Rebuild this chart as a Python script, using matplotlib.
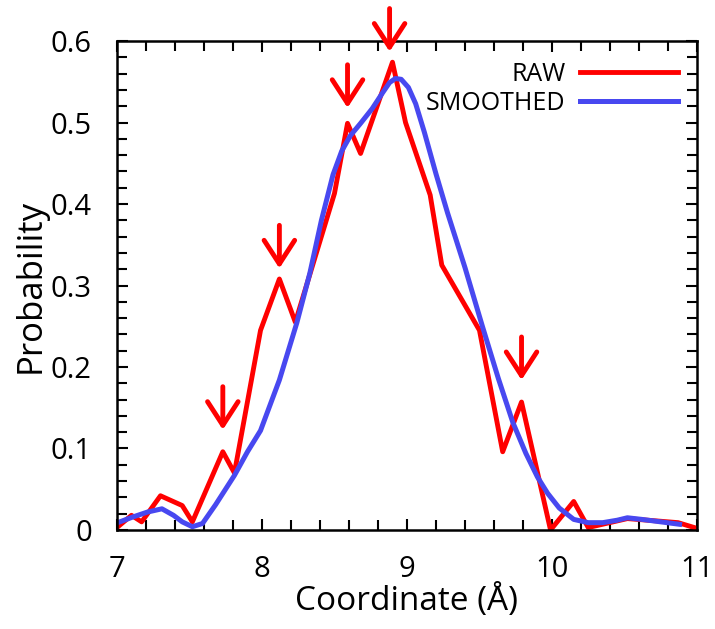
import numpy as np
import matplotlib
matplotlib.use("Agg")
import matplotlib.pyplot as plt
from matplotlib.ticker import MultipleLocator

plt.rcParams['font.family'] = ['Open Sans', 'DejaVu Sans']

# raw histogram (red)
raw_x = [7.00, 7.10, 7.17, 7.30, 7.45, 7.52, 7.73, 7.81, 7.99, 8.12, 8.23, 8.50, 8.59, 8.68,
         8.90, 8.99, 9.16, 9.24, 9.50, 9.66, 9.79, 9.99, 10.15, 10.25, 10.52, 10.87, 11.00]
raw_y = [0.003, 0.018, 0.010, 0.042, 0.030, 0.010, 0.096, 0.070, 0.245, 0.308, 0.255, 0.413, 0.499, 0.462,
         0.574, 0.500, 0.411, 0.325, 0.245, 0.096, 0.157, 0.000, 0.035, 0.003, 0.014, 0.009, 0.002]

# smoothed curve (blue)
smooth_x = [7.02, 7.11, 7.21, 7.31, 7.39, 7.45, 7.52, 7.59, 7.68, 7.81, 7.90, 7.99, 8.12, 8.24, 8.33,
            8.41, 8.49, 8.55, 8.61, 8.68, 8.76, 8.83, 8.88, 8.92, 8.96, 9.01, 9.06, 9.12, 9.20, 9.28, 9.40,
            9.52, 9.63, 9.73, 9.82, 9.90, 9.97, 10.05, 10.15, 10.25, 10.35, 10.45, 10.52, 10.62, 10.75, 10.88]
smooth_y = [0.010, 0.016, 0.022, 0.026, 0.018, 0.010, 0.004, 0.008, 0.031, 0.067, 0.096, 0.122, 0.184, 0.254, 0.315,
            0.380, 0.436, 0.465, 0.484, 0.499, 0.517, 0.536, 0.549, 0.554, 0.553, 0.543, 0.523, 0.488, 0.437, 0.389, 0.322,
            0.250, 0.186, 0.132, 0.094, 0.065, 0.045, 0.027, 0.013, 0.009, 0.009, 0.012, 0.015, 0.013, 0.010, 0.007]

# arrows marking peaks (tip positions)
arrow_x = [7.73, 8.12, 8.59, 8.88, 9.79]
arrow_y = [0.123, 0.321, 0.518, 0.587, 0.184]

fig = plt.figure(figsize=(7.15, 6.29), dpi=100)
ax = fig.add_axes([0.1636, 0.1574, 0.8112, 0.7774])

ax.plot(raw_x, raw_y, color='#FF0000', lw=3.5, label='RAW')
ax.plot(smooth_x, smooth_y, color='#4848F0', lw=3.6, label='SMOOTHED')

for x, y in zip(arrow_x, arrow_y):
    ax.annotate('', xy=(x, y), xytext=(0, 31), textcoords='offset points',
                annotation_clip=False,
                arrowprops=dict(arrowstyle='->,head_length=0.85,head_width=0.55',
                                mutation_scale=20, color='#FF0000', lw=3.5,
                                shrinkA=0, shrinkB=0))

ax.set_xlim(7, 11)
ax.set_ylim(0, 0.6)
ax.xaxis.set_minor_locator(MultipleLocator(0.2))
ax.yaxis.set_minor_locator(MultipleLocator(0.02))
ax.set_yticks([0, 0.1, 0.2, 0.3, 0.4, 0.5, 0.6])
ax.set_yticklabels(['0', '0.1', '0.2', '0.3', '0.4', '0.5', '0.6'])
ax.set_xticks([7, 8, 9, 10, 11])

ax.tick_params(which='both', direction='in', top=True, right=True, width=1.5, color='black')
ax.tick_params(which='major', length=8, labelsize=21, pad=18)
ax.tick_params(which='minor', length=7)
for s in ax.spines.values():
    s.set_linewidth(1.8)

ax.set_xlabel('Coordinate (Å)', fontsize=24, labelpad=0)
ax.set_ylabel('Probability', fontsize=25, labelpad=2)

ax.legend(loc='upper right', frameon=False, markerfirst=False, fontsize=18,
          handlelength=3.9, handletextpad=0.6, labelspacing=0.15,
          borderpad=0, borderaxespad=0, bbox_to_anchor=(0.967, 0.957))

fig.savefig('out.png', dpi=100)
